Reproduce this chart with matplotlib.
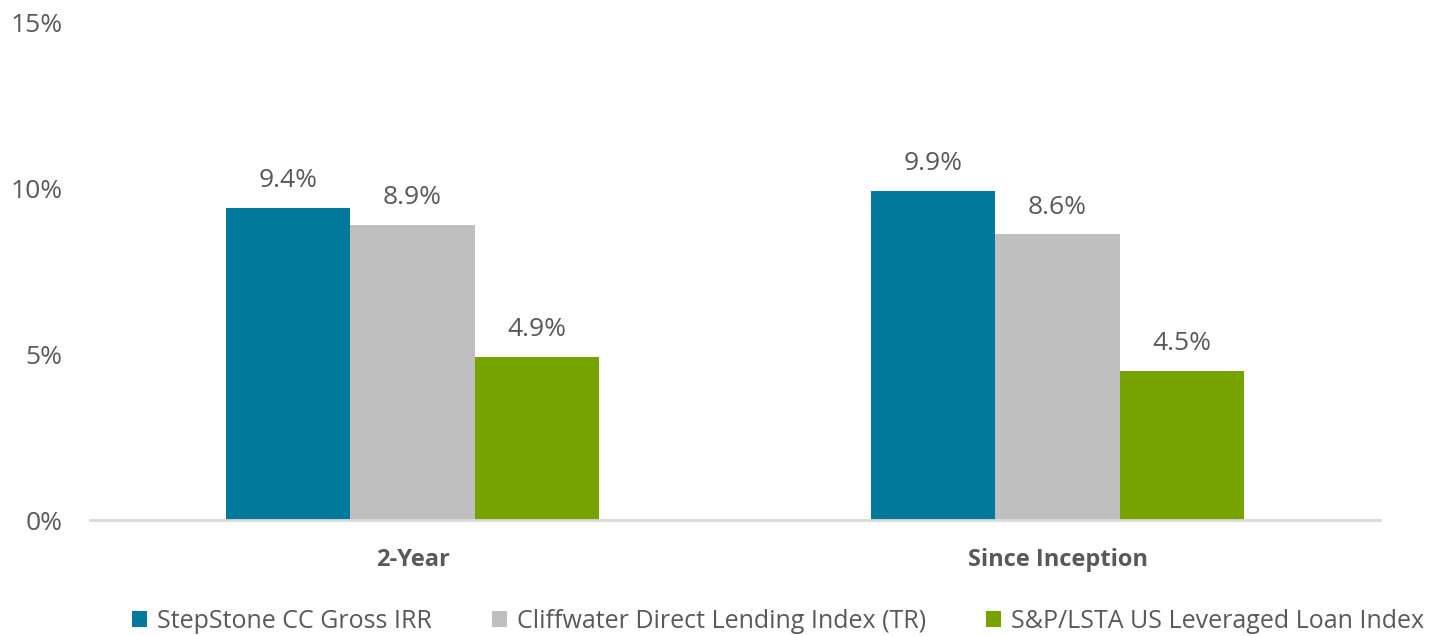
import matplotlib
matplotlib.use("Agg")
import matplotlib.pyplot as plt
import numpy as np

categories = ["2-Year", "Since Inception"]
series_names = ["StepStone CC Gross IRR", "Cliffwater Direct Lending Index (TR)", "S&P/LSTA US Leveraged Loan Index"]
stepstone = [9.4, 9.9]
cliffwater = [8.9, 8.6]
sp_lsta = [4.9, 4.5]
yticks = [0, 5, 10, 15]
colors = ["#00799A", "#BFBFBF", "#77A300"]

plt.rcParams['font.family'] = ['Open Sans', 'DejaVu Sans']
txt = "#595959"

fig = plt.figure(figsize=(14.3, 6.36), dpi=100)
ax = fig.add_axes([90/1430, 116/636, 1290/1430, 498/636])

x = np.arange(len(categories))
w = 0.193
for i, (vals, name, c) in enumerate(zip([stepstone, cliffwater, sp_lsta], series_names, colors)):
    pos = x + (i - 1) * w
    bars = ax.bar(pos, vals, width=w, color=c, label=name)
    for b, v in zip(bars, vals):
        ax.text(b.get_x() + b.get_width()/2, v + 0.45, f"{v:.1f}%", ha="center", va="bottom",
                fontsize=19, color=txt)

ax.set_xlim(-0.5, 1.5)
ax.set_ylim(0, 15)
ax.set_yticks(yticks)
ax.set_yticklabels([f"{t}%" for t in yticks], fontsize=19, color=txt)
ax.set_xticks(x)
ax.set_xticklabels(categories, fontsize=17, fontweight="bold", color=txt)
ax.tick_params(axis="both", length=0)
ax.tick_params(axis="y", pad=20)
ax.tick_params(axis="x", pad=20)
for s in ["top", "right", "left"]:
    ax.spines[s].set_visible(False)
ax.spines["bottom"].set_color("#D9D9D9")
ax.spines["bottom"].set_linewidth(2)

leg = fig.legend(loc="center", bbox_to_anchor=(778/1430, 1 - 621/636), ncol=3, frameon=False,
                 fontsize=18, handlelength=0.6, handleheight=0.6, handletextpad=0.4,
                 columnspacing=2.4, labelcolor=txt)
fig.savefig("out.png", dpi=100)
